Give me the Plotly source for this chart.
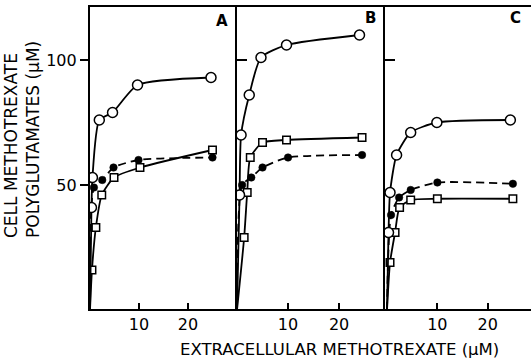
import plotly.graph_objects as go

# Panel A
a_open_x = [0, 0.3, 0.5, 1.9, 4.6, 9.7, 24.7]
a_open_y = [0, 41, 53, 76, 79, 90, 93]
a_sq_x = [0, 0.4, 1.2, 2.4, 4.9, 10.2, 25]
a_sq_y = [0, 16, 33, 46, 53, 57, 64]
a_fill_x = [0, 0.8, 2.5, 4.8, 9.9, 25]
a_fill_y = [0, 49, 52, 57, 60, 61]

# Panel B
b_open_x = [0, 0.5, 0.8, 2.4, 4.7, 9.7, 24]
b_open_y = [0, 46, 70, 86, 101, 106, 110]
b_sq_x = [0, 1.4, 2.0, 2.6, 5, 9.7, 24.5]
b_sq_y = [0, 29, 47, 61, 67, 68, 69]
b_fill_x = [0, 1.0, 2.8, 5, 10, 24.5]
b_fill_y = [0, 50, 53, 57, 61, 62]

# Panel C
c_open_x = [0, 0.3, 0.6, 1.9, 4.7, 9.9, 24.5]
c_open_y = [0, 31, 47, 62, 71, 75, 76]
c_sq_x = [0, 0.6, 1.6, 2.5, 4.7, 10, 25]
c_sq_y = [0, 19, 31, 41, 44, 44.5, 44.5]
c_fill_x = [0, 0.8, 2.4, 4.7, 10, 25]
c_fill_y = [0, 38, 45, 48, 51, 50.5]

panel_letters = ["A", "B", "C"]
x_ticks = [10, 20]
y_ticks = [50, 100]

panels = [
    (a_open_x, a_open_y, a_sq_x, a_sq_y, a_fill_x, a_fill_y),
    (b_open_x, b_open_y, b_sq_x, b_sq_y, b_fill_x, b_fill_y),
    (c_open_x, c_open_y, c_sq_x, c_sq_y, c_fill_x, c_fill_y),
]

fig = go.Figure()
BLACK = "black"

def sizes(n, s):
    return [0] + [s] * (n - 1)

for i, (ox, oy, sx, sy, fx, fy) in enumerate(panels):
    xa = "x" if i == 0 else f"x{i+1}"
    ya = "y" if i == 0 else f"y{i+1}"
    line = dict(color=BLACK, width=1.8, shape="spline", smoothing=0.6)
    fig.add_trace(go.Scatter(x=fx, y=fy, mode="lines+markers", xaxis=xa, yaxis=ya,
                             line=dict(color=BLACK, width=1.8, shape="spline", smoothing=0.6, dash="8px,5px"),
                             marker=dict(symbol="circle", size=sizes(len(fx), 7.5), color=BLACK, opacity=1,
                                         line=dict(color=BLACK, width=0.5)),
                             showlegend=False, cliponaxis=True))
    fig.add_trace(go.Scatter(x=sx, y=sy, mode="lines+markers", xaxis=xa, yaxis=ya, line=line,
                             marker=dict(symbol="square", size=sizes(len(sx), 7.5), color="white", opacity=1,
                                         line=dict(color=BLACK, width=1.5)),
                             showlegend=False, cliponaxis=True))
    fig.add_trace(go.Scatter(x=ox, y=oy, mode="lines+markers", xaxis=xa, yaxis=ya, line=line,
                             marker=dict(symbol="circle", size=sizes(len(ox), 10), color="white", opacity=1,
                                         line=dict(color=BLACK, width=1.5)),
                             showlegend=False, cliponaxis=True))

L, R, T, B = 90, 0, 7, 50
W, H = 531, 359
pw = W - L - R
ph = H - T - B

def px_dom(a, b):
    return [(a - L) / pw, (b - L) / pw]

doms = [px_dom(90, 236), px_dom(237, 384), px_dom(385, 531)]
xranges = [[0, 29.8], [0, 28.8], [-0.4, 28.6]]

font_tick = dict(family="DejaVu Sans", size=16, color=BLACK)
layout = dict(
    width=W, height=H,
    margin=dict(l=L, r=R, t=T, b=B),
    paper_bgcolor="white", plot_bgcolor="white",
    showlegend=False,
)
for i in range(3):
    xk = "xaxis" if i == 0 else f"xaxis{i+1}"
    yk = "yaxis" if i == 0 else f"yaxis{i+1}"
    xa = "x" if i == 0 else f"x{i+1}"
    layout[xk] = dict(domain=doms[i], range=xranges[i], anchor="y" if i == 0 else f"y{i+1}",
                      showgrid=False, zeroline=False, showline=True, linecolor=BLACK, linewidth=2,
                      mirror=True, ticks="inside", ticklen=6, tickwidth=1.5, tickcolor=BLACK,
                      tickvals=x_ticks, ticktext=[str(v) for v in x_ticks], tickfont=font_tick)
    ydict = dict(domain=[0, 1], range=[0.4, 121.2], anchor=xa,
                 showgrid=False, zeroline=False, showline=True, linecolor=BLACK, linewidth=2.2,
                 mirror=False, tickcolor=BLACK, tickwidth=1.5, tickfont=font_tick)
    if i == 0:
        ydict.update(ticks="outside", ticklen=8, tickvals=y_ticks,
                     ticktext=[str(v) for v in y_ticks], showticklabels=True)
    else:
        ydict.update(ticks="inside", ticklen=10, tickvals=[100], showticklabels=False)
    layout[yk] = ydict

fig.update_layout(**layout)

letter_pos = [(222, 21), (370, 18), (515, 18)]
for (lx, ly), letter in zip(letter_pos, panel_letters):
    fig.add_annotation(x=(lx - L) / pw, y=(H - B - ly) / ph, xref="paper", yref="paper",
                       text=f"<b>{letter}</b>", showarrow=False,
                       font=dict(family="DejaVu Sans", size=15, color=BLACK),
                       xanchor="center", yanchor="middle")

fig.add_annotation(x=(339 - L) / pw, y=-(349 - (H - B)) / ph, xref="paper", yref="paper",
                   text="EXTRACELLULAR METHOTREXATE (μM)", showarrow=False,
                   font=dict(family="DejaVu Sans", size=16.5, color=BLACK),
                   xanchor="center", yanchor="middle")
fig.add_annotation(x=(22 - L) / pw, y=(H - B - 140) / ph, xref="paper", yref="paper",
                   text="CELL METHOTREXATE<br>POLYGLUTAMATES (μM)", showarrow=False,
                   textangle=-90, align="left",
                   font=dict(family="DejaVu Sans", size=17, color=BLACK),
                   xanchor="center", yanchor="middle")

fig.write_html("out.html", config={"displayModeBar": False},
               post_script="document.body.style.margin='0';document.body.style.overflow='hidden';")
